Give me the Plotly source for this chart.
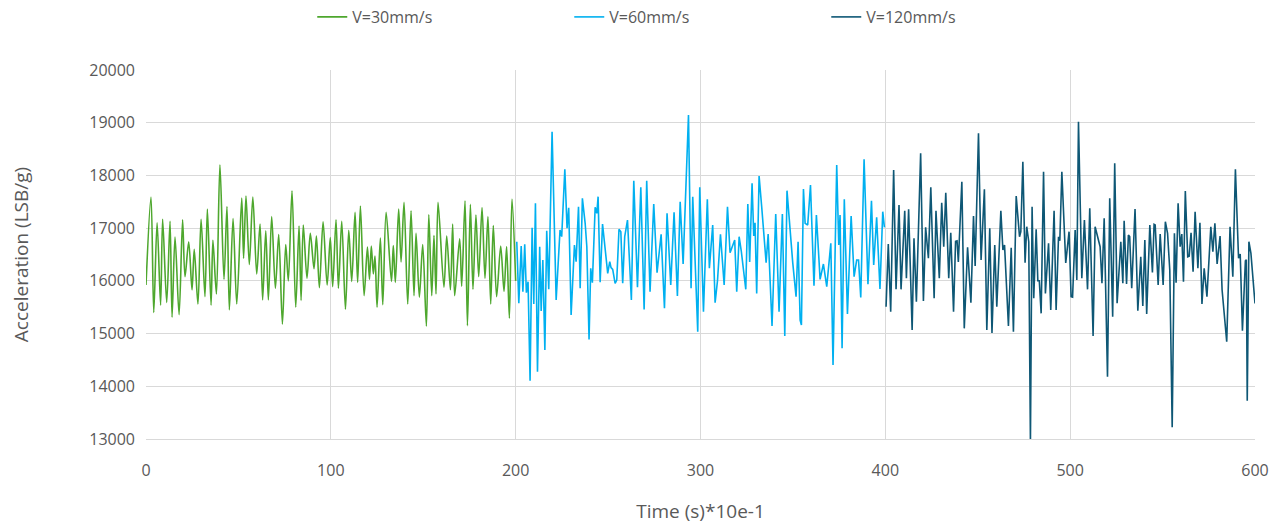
import plotly.graph_objects as go

# ---- data ----
green_x = [0, 2.7, 4.2, 6.0, 7.9, 9.0, 11.2, 13.0, 14.1, 15.7, 17.9, 19.8, 21.1, 23.1, 24.9, 26.1, 28.1, 29.8,
           31.9, 33.2, 35.2, 36.2, 38.1, 40.0, 42.2, 43.8, 45.1, 47.1, 49.1, 51.8, 52.8, 54.1, 55.9, 57.8, 59.9,
           61.7, 63.1, 64.8, 66.2, 68.0, 70.0, 71.8, 73.8, 75.6, 77.0, 79.0, 81.0, 82.8, 83.9, 85.1, 87.1, 88.9,
           90.9, 92.2, 93.8, 95.8, 98.0, 99.7, 101.0, 102.8, 104.1, 105.9, 107.9, 109.7, 111.3, 113.1, 114.5,
           116.0, 118.0, 119.8, 120.9, 121.9, 123.0, 123.9, 125.0, 126.8, 128.1, 129.9, 132.8, 133.8, 134.9,
           136.7, 138.0, 139.6, 141.6, 143.4, 145.0, 146.1, 147.9, 149.7, 151.7, 153.0, 154.6, 155.8, 156.9,
           158.0, 161.2, 162.7, 164.7, 165.9, 167.0, 169.7, 170.8, 172.6, 173.9, 175.5, 176.9, 178.5, 180.0,
           181.8, 183.4, 185.0, 186.5, 187.9, 189.7, 191.9, 193.7, 195.1, 196.6, 198.0, 200.0]
green_y = [15920, 17590, 15400, 17100, 15540, 17170, 15590, 17130, 15310, 16830, 15360, 17160, 16080, 16740,
           15830, 16600, 15560, 17170, 15700, 17360, 15540, 16770, 15750, 18200, 16030, 17410, 15450, 17180,
           15560, 17570, 16430, 17610, 16310, 17590, 16130, 17080, 15640, 16950, 15640, 17220, 15860, 16880,
           15180, 16690, 16000, 17710, 15500, 17040, 15630, 17060, 16050, 16900, 16230, 16850, 15870, 17120,
           15920, 16820, 15890, 17160, 15860, 17130, 15460, 16960, 15990, 17300, 15970, 17420, 15720, 16640,
           16030, 16660, 16130, 16470, 15500, 16810, 15550, 17300, 15990, 16670, 15970, 17360, 16360, 17490,
           15560, 17330, 15720, 16900, 15690, 16690, 15140, 17260, 15720, 16860, 15750, 17490, 15880, 16850,
           15830, 17080, 15720, 16800, 15900, 17520, 15150, 17450, 15840, 17250, 16080, 17390, 16050, 17220,
           15560, 17050, 15700, 16660, 15800, 16650, 15290, 17550, 16000]

blue_x = [200.6, 201.7, 203.0, 203.9, 204.9, 205.8, 206.7, 207.8, 208.9, 209.8, 210.7, 211.8, 213.0, 213.8,
          214.7, 215.8, 216.8, 217.9, 219.7, 221.9, 224.0, 224.9, 226.6, 227.8, 228.7, 230.0, 231.8, 232.7,
          234.0, 234.9, 236.1, 237.6, 238.5, 239.7, 240.6, 241.5, 243.0, 243.9, 244.6, 245.7, 247.0, 249.8,
          250.9, 251.6, 252.5, 253.8, 254.7, 255.9, 256.9, 257.9, 259.0, 260.5, 262.6, 263.9, 265.9, 267.7,
          269.5, 270.9, 272.7, 274.7, 276.5, 278.7, 280.5, 281.9, 283.9, 285.7, 287.5, 289.0, 290.6, 293.5,
          294.9, 295.8, 298.5, 299.6, 301.6, 303.7, 304.8, 306.6, 307.9, 309.2, 310.8, 312.8, 314.6, 316.0,
          318.5, 319.6, 320.9, 322.1, 324.5, 325.6, 326.6, 327.9, 328.8, 329.5, 330.4, 331.7, 333.1, 335.5,
          336.6, 338.7, 340.7, 342.5, 344.3, 345.6, 346.8, 348.1, 349.9, 351.7, 352.8, 353.9, 354.6, 355.7,
          356.6, 358.0, 359.5, 361.4, 362.7, 364.7, 366.5, 368.3, 370.5, 371.7, 373.7, 374.8, 375.5, 376.6,
          377.8, 379.5, 381.5, 383.1, 384.5, 385.5, 386.7, 388.5, 390.6, 392.5, 393.7, 395.3, 397.1, 398.6,
          399.5]
blue_y = [16743, 15574, 16661, 15794, 16693, 15775, 15984, 14106, 17008, 15560, 17471, 14276, 16648, 15428,
          16395, 14688, 16951, 15839, 18830, 15636, 16965, 16838, 18116, 16997, 17388, 15352, 16680, 16364,
          17407, 15858, 17566, 17092, 16648, 14890, 16238, 15965, 17395, 17281, 17597, 15972, 17078, 16143,
          16364, 16250, 16219, 15953, 16016, 16978, 16933, 15953, 16838, 17154, 15636, 17900, 15877, 17774,
          15459, 17900, 15794, 17458, 16155, 16883, 15479, 17281, 15921, 17300, 15712, 17502, 16319, 19146,
          15858, 17597, 15035, 17774, 15415, 17547, 16238, 17059, 15585, 16003, 16883, 15921, 17407, 16534,
          16775, 15794, 16838, 16553, 15839, 17458, 16357, 17850, 16851, 17103, 15762, 17989, 17407, 16345,
          16889, 15143, 17268, 15415, 17268, 14953, 17711, 17059, 16345, 15700, 16743, 15257, 15162, 17742,
          17092, 17059, 17818, 15908, 17249, 16029, 16319, 15889, 16712, 14403, 18198, 16680, 17249, 14720,
          17547, 15371, 17230, 16079, 16395, 16395, 15687, 18306, 15934, 17521, 16300, 17205, 15845, 17312,
          17016]

dark_x = [400.4, 401.6, 402.9, 404.5, 405.8, 407.4, 408.5, 410.5, 411.4, 412.6, 414.5, 415.5, 416.8, 419.1,
          420.6, 421.8, 423.3, 424.6, 426.4, 427.4, 429.2, 430.5, 431.6, 432.7, 434.3, 435.4, 436.9, 438.0,
          438.8, 439.5, 441.4, 442.7, 444.5, 446.3, 447.7, 448.6, 450.4, 451.8, 453.6, 454.9, 456.5, 457.7,
          459.2, 460.3, 462.5, 463.6, 464.5, 466.6, 468.1, 469.3, 470.8, 472.6, 473.3, 474.4, 475.6, 476.5,
          477.6, 478.5, 479.4, 480.3, 481.6, 482.5, 483.3, 484.3, 485.6, 486.6, 488.3, 489.5, 491.3, 492.4,
          493.7, 494.4, 495.5, 497.6, 499.4, 500.5, 501.3, 502.7, 503.6, 504.5, 506.3, 507.7, 509.4, 510.6,
          512.4, 513.5, 516.2, 517.2, 518.4, 520.2, 521.4, 523.0, 524.1, 525.4, 527.4, 528.5, 529.2, 530.5,
          531.5, 532.2, 533.3, 535.1, 536.6, 538.2, 539.3, 540.4, 541.4, 543.1, 544.5, 545.4, 546.0, 547.6,
          548.7, 550.3, 551.5, 552.7, 553.9, 555.2, 556.4, 557.3, 558.4, 559.5, 560.4, 561.3, 562.3, 563.6,
          564.4, 565.4, 566.5, 567.6, 569.1, 570.2, 571.3, 572.5, 574.0, 576.1, 577.2, 578.3, 579.5, 581.1,
          582.2, 584.7, 586.5, 588.0, 589.4, 591.1, 592.0, 593.2, 594.8, 595.3, 595.8, 596.7, 597.8, 600.0]
dark_y = [15510, 16699, 15415, 18103, 15839, 17439, 15839, 17331, 16048, 17357, 15067, 16807, 15604, 18420,
          15617, 17016, 16428, 17774, 15669, 17331, 16048, 17483, 16648, 17673, 16048, 16913, 15415, 16750,
          16760, 16357, 17881, 15099, 16636, 15585, 17230, 16281, 18799, 16395, 17736, 15067, 16997, 15010,
          16680, 15510, 17331, 16585, 16680, 15143, 16629, 15035, 17610, 16838, 16933, 18260, 16345, 17027,
          16743, 12948, 17407, 15669, 16978, 16003, 16003, 15384, 18071, 15762, 16712, 15447, 17331, 15447,
          16838, 16760, 18071, 16338, 16933, 15700, 15690, 16965, 16016, 19020, 16048, 17154, 15839, 17376,
          14953, 17027, 16648, 15953, 17186, 14181, 17566, 15320, 18230, 15574, 16743, 15953, 17141, 15940,
          16870, 16840, 15858, 17363, 15434, 16458, 15522, 16775, 15371, 17059, 16161, 17072, 17060, 15921,
          16889, 15921, 17123, 16900, 16200, 13221, 16901, 15965, 17471, 16648, 16889, 15984, 17704, 16458,
          16470, 16913, 16174, 17312, 16238, 17103, 15560, 16238, 15700, 17027, 16553, 17092, 16319, 16851,
          15826, 14845, 17027, 16079, 18116, 16428, 16509, 15054, 16382, 16400, 13726, 16743, 16521, 15570]

series_names = ["V=30mm/s", "V=60mm/s", "V=120mm/s"]
series_colors = ["#4EA72E", "#00B0F0", "#0E5775"]

x_ticks = [0, 100, 200, 300, 400, 500, 600]
y_ticks = [13000, 14000, 15000, 16000, 17000, 18000, 19000, 20000]

FONT = "Open Sans"
TXT = "#595959"

fig = go.Figure()
fig.add_trace(go.Scatter(x=green_x, y=green_y, mode="lines", name=series_names[0],
                         line=dict(color=series_colors[0], width=1.6, shape="spline", smoothing=0.9)))
fig.add_trace(go.Scatter(x=blue_x, y=blue_y, mode="lines", name=series_names[1],
                         line=dict(color=series_colors[1], width=1.6)))
fig.add_trace(go.Scatter(x=dark_x, y=dark_y, mode="lines", name=series_names[2],
                         line=dict(color=series_colors[2], width=1.6)))

fig.update_layout(
    width=1285, height=526,
    margin=dict(l=146, r=30, t=70, b=87, autoexpand=False),
    paper_bgcolor="white", plot_bgcolor="white",
    font=dict(family=FONT, color=TXT, size=16),
    showlegend=True,
    legend=dict(orientation="h", xref="container", yref="container",
                x=0.243, xanchor="left", y=1.0, yanchor="top",
                entrywidth=212, entrywidthmode="pixels",
                font=dict(size=16, color=TXT), bgcolor="rgba(0,0,0,0)"),
)
fig.update_xaxes(range=[0, 600], tickvals=x_ticks, showgrid=True, gridcolor="#D9D9D9", gridwidth=1,
                 zeroline=False, showline=True, linecolor="#D9D9D9", ticks="", automargin=False,
                 tickfont=dict(size=16, color=TXT), ticklabelstandoff=17,
                 title=dict(text="Time (s)*10e-1", font=dict(size=19, color=TXT), standoff=24))
fig.update_yaxes(range=[13000, 20000], tickvals=y_ticks, tickformat="d", showgrid=True,
                 gridcolor="#D9D9D9", gridwidth=1, automargin=False,
                 zeroline=False, showline=False, ticks="",
                 tickfont=dict(size=16, color=TXT), ticklabelstandoff=10,
                 title=dict(text="Acceleration (LSB/g)", font=dict(size=19, color=TXT), standoff=55))

fig.write_html("out.html", config={"displayModeBar": False},
               post_script="document.body.style.margin='0';")
